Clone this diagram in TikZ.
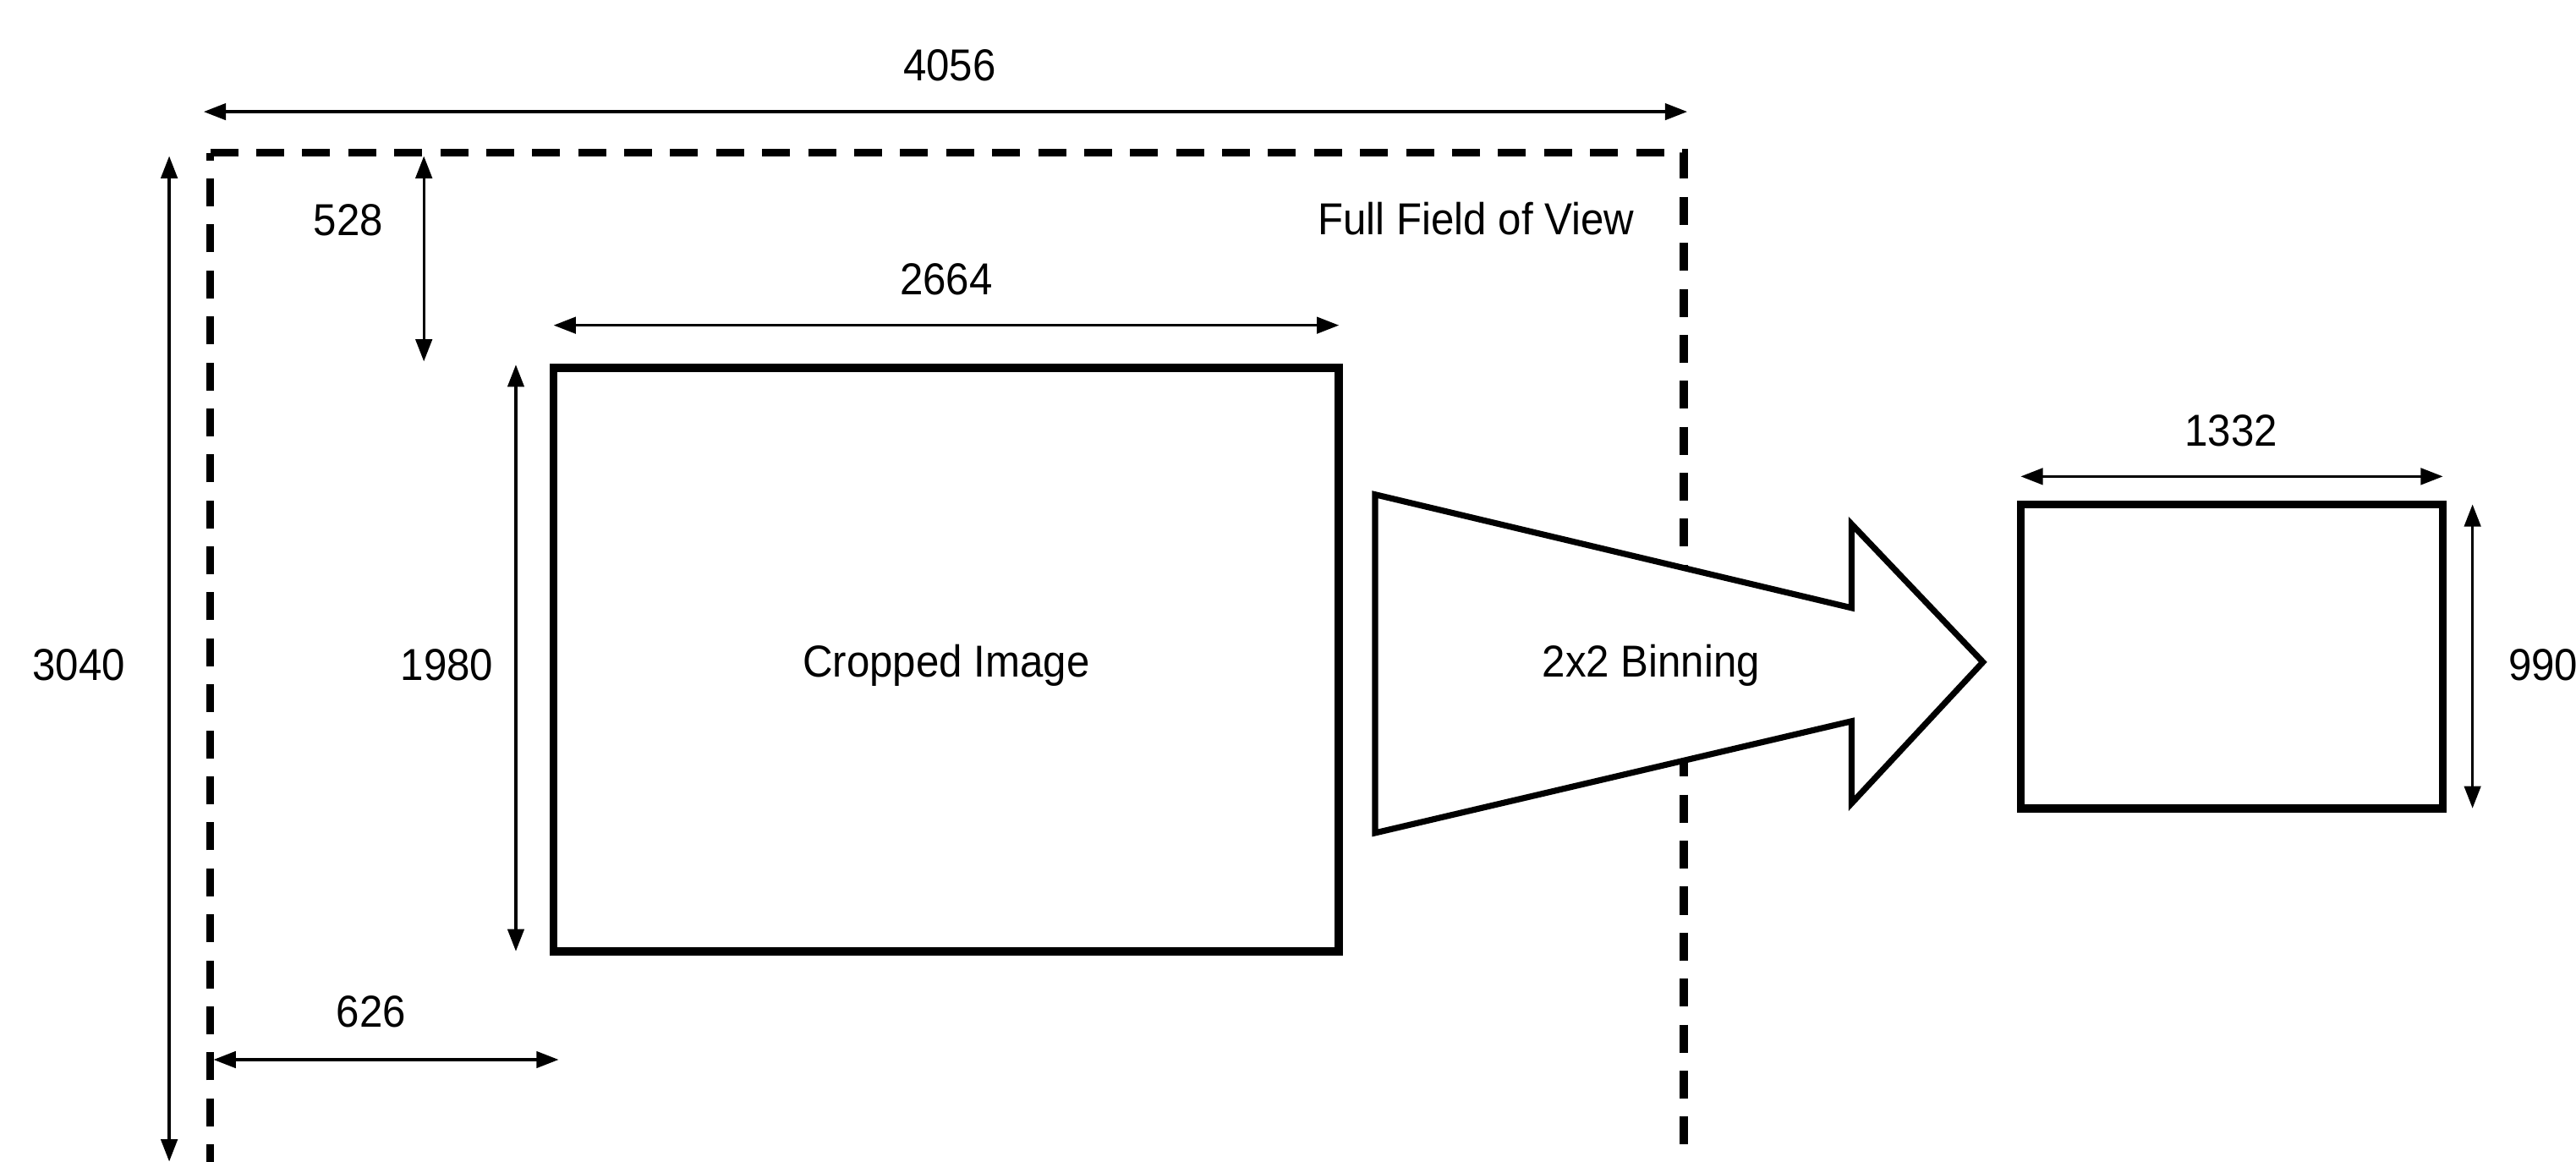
\documentclass[tikz,border=0pt]{standalone}
\usepackage{fontspec}
\setmainfont[FakeStretch=0.93]{Liberation Sans}
\usetikzlibrary{arrows.meta}
\begin{document}
\begin{tikzpicture}[x=0.02cm,y=-0.02cm,
  dimline/.style={line width=0.95pt, {Triangle[length=0.27cm,width=0.2cm]}-{Triangle[length=0.27cm,width=0.2cm]}},
  lbl/.style={font=\fontsize{15.5}{18}\selectfont, inner sep=0pt},
  fov/.style={line width=2.8pt, dash pattern=on 0.34cm off 0.22cm},
  boxline/.style={line width=2.8pt, line join=miter},
  bigarrow/.style={line width=2.1pt, fill=white, line join=miter}]
\useasboundingbox (0,0) rectangle (1568,707);
\fill[white] (0,0) rectangle (1568,707);

% full field of view
\coordinate (fTL) at (128,93);
\coordinate (fTR) at (1025,93);
\coordinate (fBR) at (1025,710);
\coordinate (fBL) at (128,710);
\draw[fov] (fTL) -- (fTR) -- (fBR) -- (fBL) -- cycle;
\node[lbl, anchor=east] (fovl) at (995,133) {Full Field of View};

% cropped image
\coordinate (cTL) at (337,224);
\coordinate (cBR) at (815,579);
\draw[boxline] (cTL) rectangle (cBR);
\node[lbl] (crop) at (576,405) {Cropped Image};

% binned image
\coordinate (bTL) at (1230,307);
\coordinate (bBR) at (1487,492);
\draw[boxline] (bTL) rectangle (bBR);

% big arrow
\draw[bigarrow] (837,301) -- (1127,370) -- (1127,319) -- (1207,403) -- (1127,489) -- (1127,439) -- (837,507) -- cycle;
\node[lbl] (bin) at (1005,405) {2x2 Binning};

% dimension lines
\coordinate (a1) at (124,68);  \coordinate (a2) at (1027,68);
\draw[dimline] (a1) -- (a2);
\node[lbl] (w4056) at (578,40) {4056};

\coordinate (b1) at (103,95);  \coordinate (b2) at (103,707);
\draw[dimline] (b1) -- (b2);
\node[lbl] (h3040) at (48,405) {3040};

\coordinate (c1) at (258,95);  \coordinate (c2) at (258,220);
\draw[dimline] (c1) -- (c2);
\node[lbl] (o528) at (212,134) {528};

\coordinate (d1) at (337,198);  \coordinate (d2) at (815,198);
\draw[dimline] (d1) -- (d2);
\node[lbl] (w2664) at (576,170) {2664};

\coordinate (e1) at (314,222);  \coordinate (e2) at (314,579);
\draw[dimline] (e1) -- (e2);
\node[lbl] (h1980) at (272,405) {1980};

\coordinate (f1) at (130,645);  \coordinate (f2) at (340,645);
\draw[dimline] (f1) -- (f2);
\node[lbl] (o626) at (226,616) {626};

\coordinate (g1) at (1230,290);  \coordinate (g2) at (1487,290);
\draw[dimline] (g1) -- (g2);
\node[lbl] (w1332) at (1358,262) {1332};

\coordinate (h1) at (1505,307);  \coordinate (h2) at (1505,492);
\draw[dimline] (h1) -- (h2);
\node[lbl] (h990) at (1548,405) {990};
\end{tikzpicture}
\end{document}
